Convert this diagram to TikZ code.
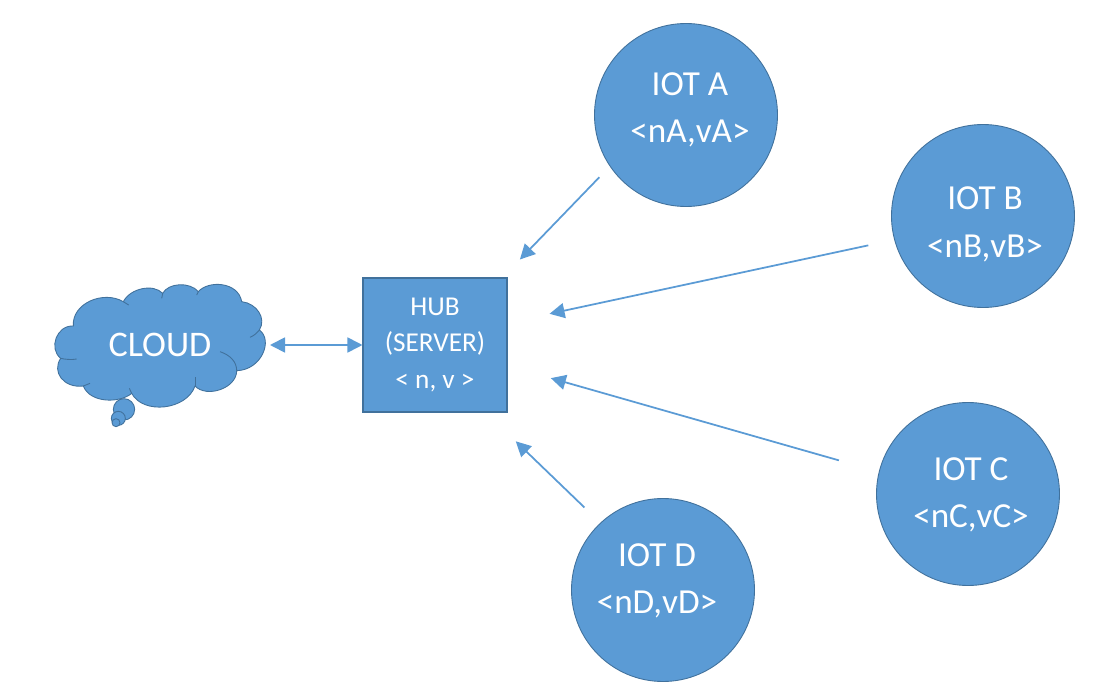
\documentclass[tikz,border=0pt]{standalone}
\usepackage{fontspec}
\setmainfont{Carlito}
\usepackage{xcolor}
\usetikzlibrary{arrows.meta}
\definecolor{officeblue}{RGB}{91, 155, 213}
\definecolor{edgeblue}{RGB}{65, 113, 156}

\begin{document}
\begin{tikzpicture}[
    device/.style={circle, draw=edgeblue, fill=officeblue, line width=0.5pt, minimum size=3.66cm},
    devicelabel/.style={align=center, text=white, font=\fontsize{20}{27}\selectfont},
    hubbox/.style={rectangle, draw=edgeblue, fill=officeblue, line width=0.6pt, minimum width=2.88cm, minimum height=2.68cm, align=center, text=white, font=\fontsize{15.5}{20.7}\selectfont},
    cloudlabel/.style={text=white, font=\fontsize{20.5}{24}\selectfont},
    cloudline/.style={draw=edgeblue, line width=0.5pt},
    link/.style={-{Triangle[length=0.3cm, width=0.3cm]}, draw=officeblue, line width=1pt},
    duplex/.style={{Triangle[length=0.3cm, width=0.3cm]}-{Triangle[length=0.3cm, width=0.3cm]}, draw=officeblue, line width=1pt}
]
    \useasboundingbox (0, 0) rectangle (22.04, 13.96);

    % Cloud outline
    \begin{scope}[shift={(0.8, 8.76)}, x=0.00667cm, y=-0.00667cm]
        \path [cloudline, fill=officeblue] (100,198)
            .. controls (95,130) and (190,90) .. (250,125)
            .. controls (270,85) and (340,70) .. (368,100)
            .. controls (385,68) and (450,65) .. (475,95)
            .. controls (505,60) and (595,65) .. (605,125)
            .. controls (650,130) and (680,175) .. (658,210)
            .. controls (700,240) and (665,330) .. (590,332)
            .. controls (590,385) and (500,415) .. (465,378)
            .. controls (440,450) and (310,465) .. (275,400)
            .. controls (240,430) and (150,430) .. (130,378)
            .. controls (70,385) and (35,335) .. (62,295)
            .. controls (25,265) and (50,195) .. (100,198) -- cycle;
        % Inner creases
        \draw [cloudline] (62,295) .. controls (75,298) and (95,300) .. (110,297);
        \draw [cloudline] (658,210) .. controls (650,220) and (640,228) .. (630,232);
        \draw [cloudline] (540,275) .. controls (570,285) and (590,305) .. (590,332);
        \draw [cloudline] (465,378) -- (465,350);
        \draw [cloudline] (275,400) -- (268,385);
        \draw [cloudline] (250,125) -- (266,135);
        \draw [cloudline] (368,100) -- (365,115);
        \draw [cloudline] (475,95) -- (470,105);
        \draw [cloudline] (130,378) -- (150,370);
        % Thought bubbles
        \draw [cloudline, fill=officeblue] (252,448) circle (32);
        \draw [cloudline, fill=officeblue] (235,475) circle (21);
        \draw [cloudline, fill=officeblue] (228,488) circle (12);
    \end{scope}

    % Nodes
    \node (cloud) [cloudlabel] at (3.20, 7.06) {CLOUD};
    \coordinate (cloudedge) at (5.40, 7.06);
    \node (hub) [hubbox] at (8.70, 7.06) {HUB\\(SERVER)\\< n, v >};
    \node (iota) [device] at (13.72, 11.66) {};
    \node (iotb) [device] at (19.66, 9.64) {};
    \node (iotc) [device] at (19.36, 4.08) {};
    \node (iotd) [device] at (13.26, 2.16) {};

    % Labels sit off centre in the circles
    \node (iotatext) [devicelabel] at (13.80, 11.76) {IOT A\\<nA,vA>};
    \node (iotbtext) [devicelabel] at (19.70, 9.47) {IOT B\\<nB,vB>};
    \node (iotctext) [devicelabel] at (19.42, 4.06) {IOT C\\<nC,vC>};
    \node (iotdtext) [devicelabel] at (13.14, 2.34) {IOT D\\<nD,vD>};

    % Arrows
    \draw [duplex] (cloudedge) -- (hub.west);
    \draw [link, shorten <=0.30cm, shorten >=0.50cm] (iota.214) -- (hub.45);
    \draw [link, shorten <=0.53cm, shorten >=0.86cm] (iotb.195.6) -- (hub.17);
    \draw [link, shorten <=0.83cm, shorten >=0.90cm] (iotc.166) -- (hub.-16);
    \draw [link, shorten <=0.44cm, shorten >=0.83cm] (iotd.133) -- (hub.-53);

\end{tikzpicture}
\end{document}
